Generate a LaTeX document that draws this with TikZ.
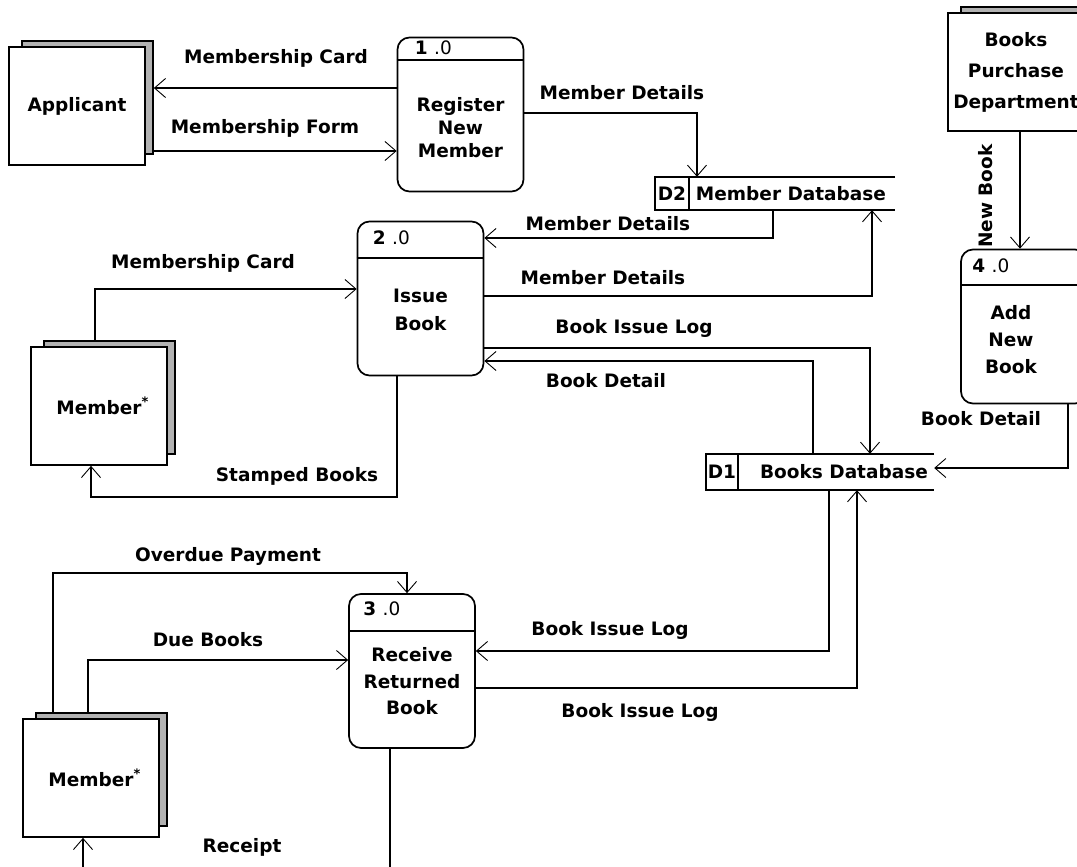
\documentclass[tikz,border=0pt]{standalone}
\usepackage{fontspec}
\setmainfont{DejaVu Sans}
\usetikzlibrary{arrows.meta,calc}

% external entity: grey back sheet plus white front sheet
\newcommand\entitybox[5][]{%
  \node[entshadow] (#2s) at ($(#3,#4)+(10.5,-8.5)$) {};
  \node[entity,#1] (#2) at (#3,#4) {#5};
}
\newcommand\starmark{\rlap{\raisebox{8pt}{\fontsize{13}{13}\selectfont *}}}

\begin{document}
\begin{tikzpicture}[x=1pt,y=-1pt,
  font=\fontsize{18.5}{22}\selectfont\bfseries,
  plain/.style={line width=1.7pt},
  flow/.style={line width=1.7pt,-{Straight Barb[length=11pt,width=19pt,line width=0.9pt]}},
  entity/.style={draw,line width=1.7pt,fill=white,minimum width=136pt,minimum height=118pt,inner sep=0pt,align=center},
  entshadow/.style={draw,line width=1.7pt,fill=black!30,minimum width=131pt,minimum height=113pt,inner sep=0pt},
  process/.style={draw,line width=1.7pt,rounded corners=12pt,minimum width=126pt,minimum height=154pt,inner sep=0pt},
  store/.style={minimum height=34pt,inner sep=0pt},
  pid/.style={anchor=west,inner sep=0pt},
  body/.style={align=center,inner sep=0pt},
  lbl/.style={inner sep=0pt},
]
\useasboundingbox (0,0) rectangle (1077,867);
\fill[white] (0,0) rectangle (1077,867);
\clip (0,0) rectangle (1077,867);

% ---------- external entities ----------
\entitybox{app}{77}{106}{Applicant}
\entitybox{mema}{99}{406}{Member\starmark}
\entitybox{memb}{91}{778}{Member\starmark}
\entitybox[font=\fontsize{18.5}{31}\selectfont\bfseries]{bpd}{1016}{72}{Books\\Purchase\\Department}

% ---------- processes ----------
\node[process] (p1) at (460.5,114.5) {};
\draw[plain] (p1.west |- 0,60) -- (p1.east |- 0,60);
\node[pid] (p1id) at ($(p1.north west)+(18,11)$) {1 {\mdseries .0}};
\node[body,font=\fontsize{18.5}{23}\selectfont\bfseries] (p1txt) at ($(p1.center)+(0,13)$) {Register\\New\\Member};

\node[process] (p2) at (420.5,298.5) {};
\draw[plain] (p2.west |- 0,258) -- (p2.east |- 0,258);
\node[pid] (p2id) at ($(p2.north west)+(16,17)$) {2 {\mdseries .0}};
\node[body,font=\fontsize{18.5}{28}\selectfont\bfseries] (p2txt) at ($(p2.center)+(0,11)$) {Issue\\Book};

\node[process] (p3) at (412,671) {};
\draw[plain] (p3.west |- 0,631) -- (p3.east |- 0,631);
\node[pid] (p3id) at ($(p3.north west)+(15,16)$) {3 {\mdseries .0}};
\node[body,font=\fontsize{18.5}{26.5}\selectfont\bfseries] (p3txt) at ($(p3.center)+(0,10.5)$) {Receive\\Returned\\Book};

\node[process] (p4) at (1024,326.5) {};
\draw[plain] (p4.west |- 0,285) -- (p4.east |- 0,285);
\node[pid] (p4id) at ($(p4.north west)+(12,17)$) {4 {\mdseries .0}};
\node[body,font=\fontsize{18.5}{27}\selectfont\bfseries] (p4txt) at (1011,340) {Add\\New\\Book};

% ---------- data stores ----------
\node[store,minimum width=240pt,minimum height=33pt] (d2) at (775,193.5) {};
\draw[plain] (d2.north east) -- (d2.north west) -- (d2.south west) -- (d2.south east);
\draw[plain] (d2.north -| 689,0) -- (d2.south -| 689,0);
\node[lbl] (d2id) at (672,194) {D2};
\node[lbl] (d2name) at (791,194) {Member Database};

\node[store,minimum width=228pt,minimum height=36pt] (d1) at (820,472) {};
\draw[plain] (d1.north east) -- (d1.north west) -- (d1.south west) -- (d1.south east);
\draw[plain] (d1.north -| 738,0) -- (d1.south -| 738,0);
\node[lbl] (d1id) at (722,472) {D1};
\node[lbl] (d1name) at (844,472) {Books Database};

% ---------- data flows ----------
\draw[flow] (p1.west |- 0,88) -- (apps.east |- 0,88);
\node[lbl] (lmc1) at (276,58) {Membership Card};
\draw[flow] (apps.east |- 0,151) -- (p1.west |- 0,151);
\node[lbl] (lmf) at (265,128) {Membership Form};

\draw[flow] (p1.east |- 0,113) -| (d2.north -| 697,0);
\node[lbl] (lmd1) at (622,93) {Member Details};
\draw[flow] (d2.south -| 773,0) |- (p2.east |- 0,238);
\node[lbl] (lmd2) at (608,224) {Member Details};
\draw[flow] (p2.east |- 0,296) -| (d2.south -| 872,0);
\node[lbl] (lmd3) at (603,278) {Member Details};

\draw[flow] (p2.east |- 0,348) -| (d1.north -| 870,0);
\node[lbl] (lbil1) at (634,328) {Book Issue Log};
\draw[flow] (d1.north -| 813,0) |- (p2.east |- 0,361);
\node[lbl] (lbd1) at (606,381) {Book Detail};

\draw[flow] (memas.north -| 95,0) |- (p2.west |- 0,289);
\node[lbl] (lmc2) at (203,263) {Membership Card};
\draw[flow] (p2.south -| 397,0) |- (91,497) -- (mema.south -| 91,0);
\node[lbl] (lsb) at (297,476) {Stamped Books};

\draw[flow] (bpd.south -| 1020,0) -- (p4.north -| 1020,0);
\node[lbl,rotate=90] (lnb) at (986,196) {New Book};
\draw[flow] (p4.south -| 1068,0) |- (d1.east |- 0,468);
\node[lbl] (lbd2) at (981,419) {Book Detail};

\draw[flow] (membs.north -| 53,0) |- (407,573) -- (p3.north -| 407,0);
\node[lbl] (lop) at (228,556) {Overdue Payment};
\draw[flow] (membs.north -| 88,0) |- (p3.west |- 0,660);
\node[lbl] (ldb) at (208,640) {Due Books};

\draw[flow] (d1.south -| 829,0) |- (p3.east |- 0,651);
\node[lbl] (lbil2) at (610,630) {Book Issue Log};
\draw[flow] (p3.east |- 0,688) -| (d1.south -| 857,0);
\node[lbl] (lbil3) at (640,712) {Book Issue Log};

\draw[flow] (p3.south -| 390,0) -- (390,885) -- (83,885) -- (memb.south -| 83,0);
\node[lbl] (lrc) at (242,847) {Receipt};
\end{tikzpicture}
\end{document}
